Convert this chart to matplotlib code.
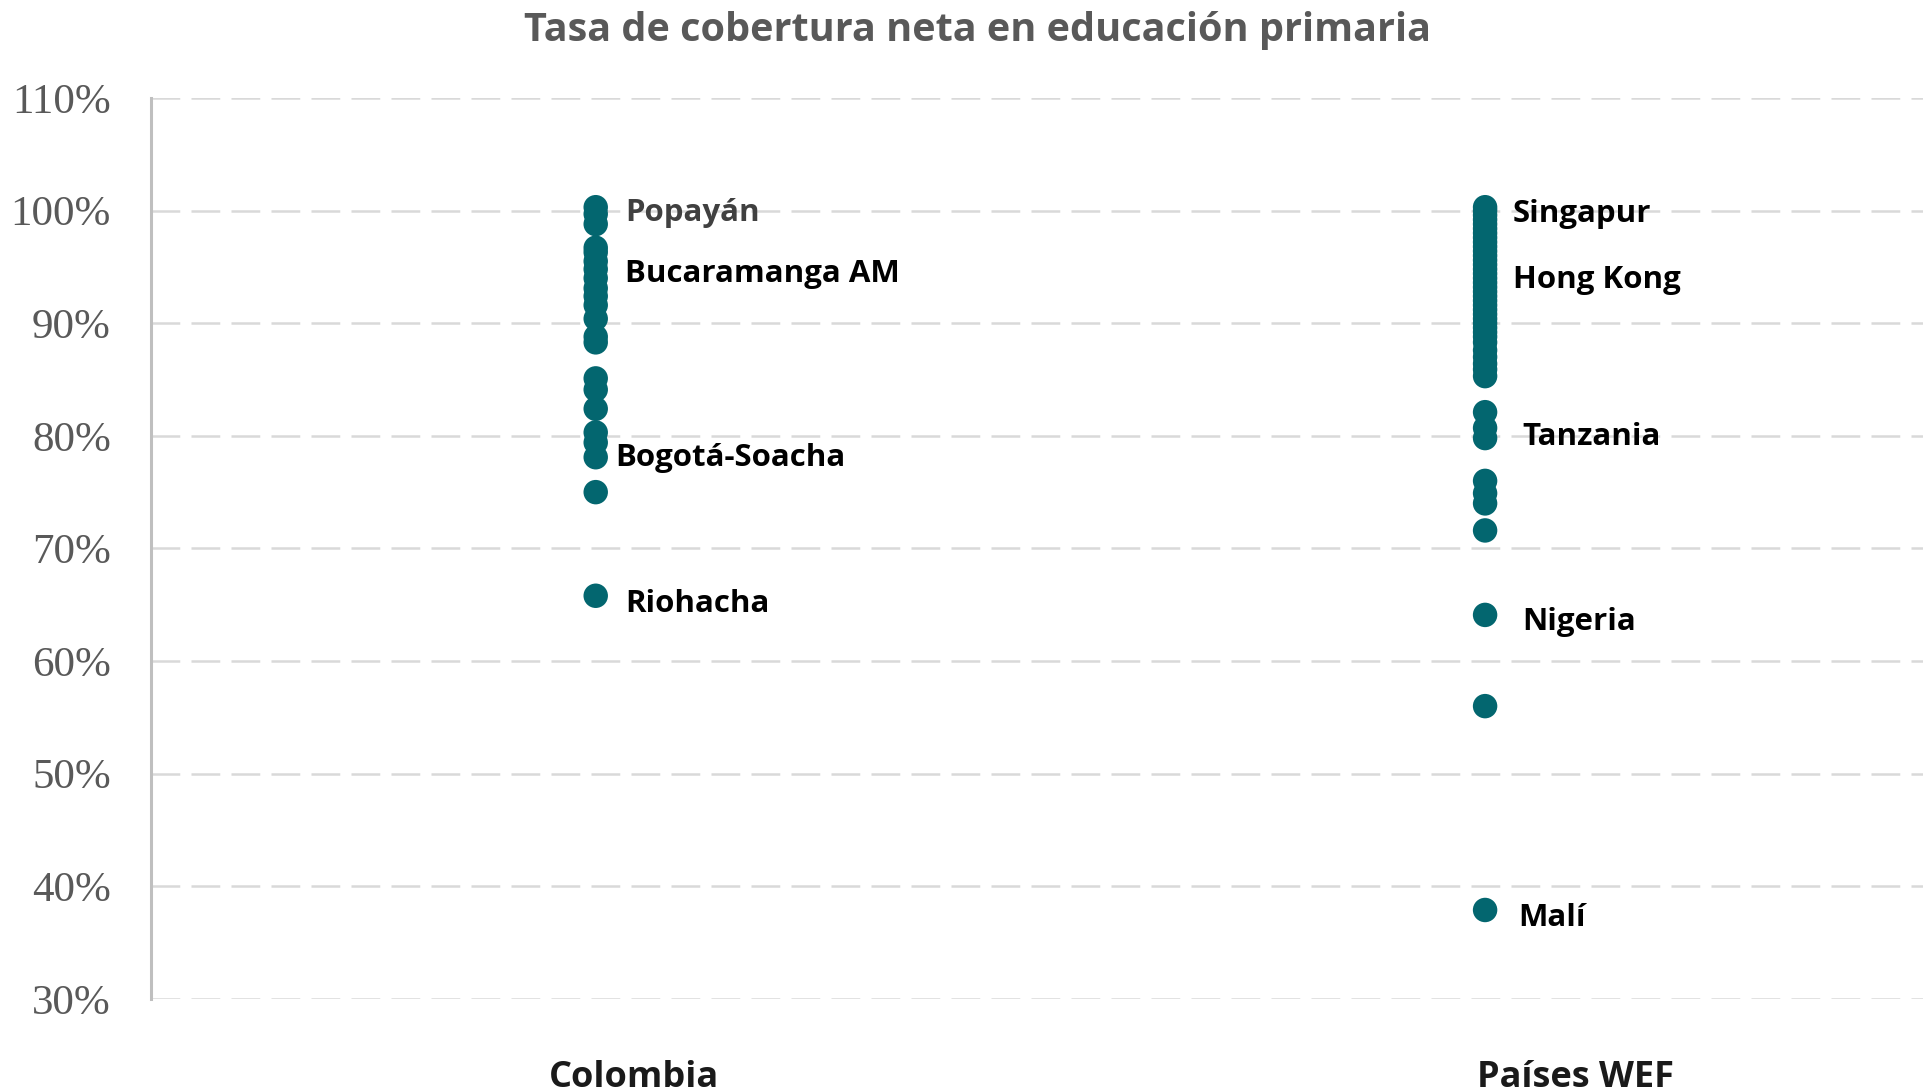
import matplotlib
matplotlib.use("Agg")
import matplotlib.pyplot as plt
from matplotlib.ticker import FuncFormatter

# ---- data ----
categories = ["Colombia", "Países WEF"]

colombia_values = [100.3, 99.7, 98.8, 96.7, 96.3, 95.5, 94.8, 94.0, 93.1, 92.4,
                   91.6, 90.4, 88.8, 88.3, 85.1, 84.1, 82.4, 80.3, 79.4, 78.1,
                   75.0, 65.8]
wef_values = [100.3, 100.0, 99.6, 99.2, 98.8, 98.4, 98.0, 97.6, 97.2, 96.8,
              96.4, 96.0, 95.6, 95.2, 94.8, 94.4, 94.0, 93.6, 93.2, 92.8,
              92.4, 92.0, 91.6, 91.2, 90.8, 90.4, 90.0, 89.6, 89.2, 88.8,
              88.3, 87.6, 87.0, 86.4, 85.9, 85.3, 82.1, 80.7, 79.8, 76.0,
              74.9, 74.0, 71.6, 64.1, 56.0, 37.9]

colombia_labels = ["Popayán", "Bucaramanga AM", "Bogotá-Soacha", "Riohacha"]
colombia_label_y = [100.1, 94.7, 78.4, 65.4]
wef_labels = ["Singapur", "Hong Kong", "Tanzania", "Nigeria", "Malí"]
wef_label_y = [100.0, 94.2, 80.2, 63.8, 37.5]

y_ticks = [30, 40, 50, 60, 70, 80, 90, 100, 110]

title = "Tasa de cobertura neta en educación primaria"

# ---- style ----
DOT = "#03666F"
GRID = "#D9D9D9"
SANS = ["Open Sans", "DejaVu Sans"]

fig = plt.figure(figsize=(19.24, 10.92), dpi=100)
ax = fig.add_axes([0.0785, 0.0852, 0.9245, 0.8251])

cat_x = [0.5, 1.5]
ax.scatter([cat_x[0]] * len(colombia_values), colombia_values, s=310,
           color=DOT, edgecolors="none", zorder=3, clip_on=False)
ax.scatter([cat_x[1]] * len(wef_values), wef_values, s=310,
           color=DOT, edgecolors="none", zorder=3, clip_on=False)

ax.set_xlim(0, 2)
ax.set_ylim(30, 110)
ax.set_yticks(y_ticks)
ax.yaxis.set_major_formatter(FuncFormatter(lambda v, p: f"{int(v)}%"))
ax.tick_params(axis="y", length=0, pad=29, labelsize=31, labelcolor="#595959")
for lab in ax.get_yticklabels():
    lab.set_fontfamily(["Liberation Serif", "DejaVu Serif"])
ax.set_xticks([])

ax.grid(axis="y", color=GRID, linewidth=1.8, linestyle=(0, (11.5, 4.5)), zorder=0)
for s in ["top", "right", "bottom"]:
    ax.spines[s].set_visible(False)
ax.spines["left"].set_color("#BFBFBF")
ax.spines["left"].set_linewidth(2.2)

# point labels
col_offsets = [21, 21, 14, 21]
col_colors = ["#404040", "black", "black", "black"]
for name, yv, off, c in zip(colombia_labels, colombia_label_y, col_offsets, col_colors):
    ax.annotate(name, xy=(cat_x[0], yv), xytext=(off, -2.7), textcoords="offset points",
                ha="left", va="center", fontsize=22.5, fontweight="bold", color=c,
                family=SANS, zorder=4)
wef_offsets = [20, 20, 27, 27, 24]
for name, yv, off in zip(wef_labels, wef_label_y, wef_offsets):
    ax.annotate(name, xy=(cat_x[1], yv), xytext=(off, -2.7), textcoords="offset points",
                ha="left", va="center", fontsize=22.5, fontweight="bold", color="black",
                family=SANS, zorder=4)

# category labels
cat_label_x = [0.543, 1.602]
for name, xv in zip(categories, cat_label_x):
    xf = ax.transData.transform((xv, 0))[0] / fig.bbox.width
    fig.text(xf, 0.005, name, ha="center", va="baseline", fontsize=26,
             fontweight="bold", color="#1A1A1A", family=SANS)

fig.text(0.508, 0.972, title, ha="center", va="center", fontsize=28.5,
         fontweight="bold", color="#595959", family=SANS)

fig.savefig("out.png", dpi=100)
